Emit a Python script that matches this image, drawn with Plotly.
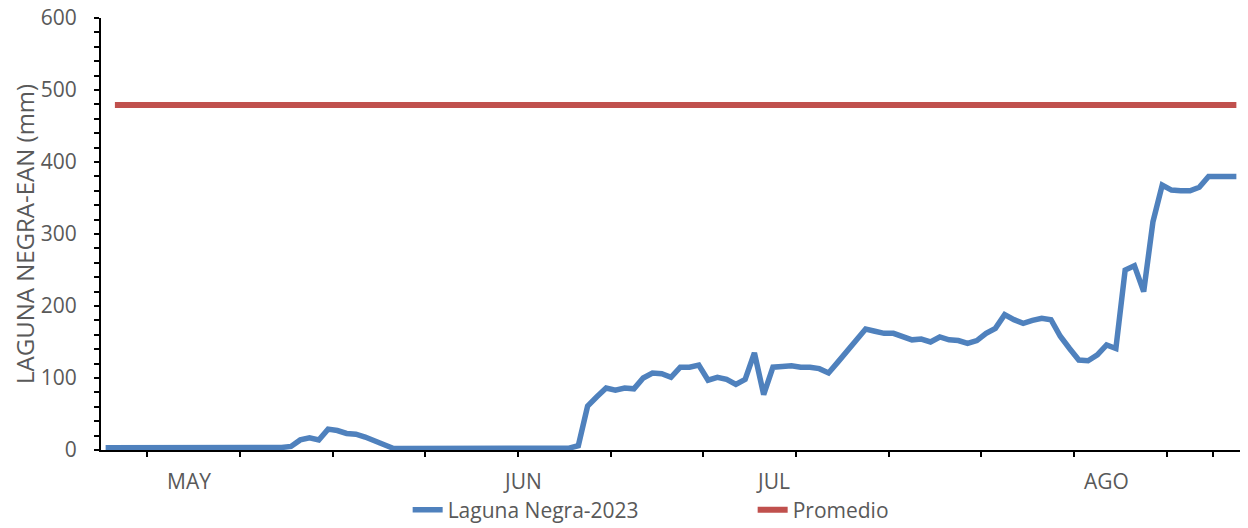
import plotly.graph_objects as go

# Daily series May 1 - Aug 31 (category index 0..122)
laguna_negra_2023 = [
    3, 3, 2.5, 2.5, 3, 2.5, 2, 2.5, 3, 2.5, 2, 2.5, 2.5, 2.5, 2.5, 2.5, 2.5, 2.5, 3, 3.5,
    5, 14, 17, 14, 29, 27, 23, 22, 18, 13, 6,
    2.5,
    2, 2, 2, 2.5, 2.5, 2.5, 2.5, 2, 2.5, 2.5, 2.5, 2, 2.5, 2.5, 2.5, 2, 2, 2.5, 2.5,
    6, 61, 74, 86, 83, 86, 85, 100, 107, 106, 101, 115, 115, 118, 97, 101, 98, 91, 98,
    135, 77, 115, 116, 117, 115, 115, 113, 107, 122, 138, 153, 168, 165, 162, 162, 158,
    153, 154, 150, 157, 153, 152, 148, 152, 162, 169, 188, 181, 176, 180, 183, 181, 158,
    141, 125, 124, 132, 146, 141, 250, 256, 220, 317, 368, 361, 360, 360, 365, 380, 380,
    380, 380,
]
promedio_value = 479
promedio_start = 1

month_labels = ["MAY", "JUN", "JUL", "AGO"]
month_label_pos = [9, 45, 72, 108]
tick_boundaries = [4.5, 14.5, 24.5, 34.5, 44.5, 54.5, 64.5, 74.5, 84.5, 94.5, 104.5, 114.5, 119.5]
y_title = "LAGUNA NEGRA-EAN (mm)"

n = len(laguna_negra_2023)
x_idx = list(range(n))
prom_x = list(range(promedio_start, n))
prom_y = [promedio_value] * len(prom_x)

FONT = "Open Sans"
GREY = "#595959"
FS = 21

fig = go.Figure()
fig.add_trace(go.Scatter(
    x=x_idx, y=laguna_negra_2023, mode="lines", name="Laguna Negra-2023",
    line=dict(color="#4F81BD", width=5.5, shape="linear"),
))
fig.add_trace(go.Scatter(
    x=prom_x, y=prom_y, mode="lines", name="Promedio",
    line=dict(color="#C0504D", width=6),
))

for lab, pos in zip(month_labels, month_label_pos):
    fig.add_annotation(x=pos, y=-0.072, xref="x", yref="paper", text=lab,
                       showarrow=False, xanchor="center", yanchor="middle",
                       font=dict(family=FONT, size=FS, color=GREY))

# y-axis title
fig.add_annotation(x=-0.0676, y=0.5, xref="paper", yref="paper", text=y_title,
                   textangle=-90, showarrow=False, xanchor="center", yanchor="middle",
                   font=dict(family=FONT, size=24, color=GREY))

fig.update_layout(
    width=1248, height=528,
    margin=dict(l=93, r=15, t=10, b=86),
    paper_bgcolor="white", plot_bgcolor="white",
    font=dict(family=FONT, size=FS, color=GREY),
    showlegend=True,
    legend=dict(orientation="h", x=0.269, xanchor="left",
                yref="container", y=0.049, yanchor="middle",
                font=dict(family=FONT, size=FS, color=GREY), entrywidth=300,
                bgcolor="rgba(0,0,0,0)"),
    xaxis=dict(
        range=[-0.5, n - 0.5], showgrid=False, zeroline=False, automargin=False,
        showline=True, linecolor="black", linewidth=2,
        tickmode="array", tickvals=tick_boundaries, ticktext=[""] * len(tick_boundaries),
        ticks="outside", ticklen=5, tickwidth=2, tickcolor="black",
    ),
    yaxis=dict(
        range=[0, 600], showgrid=False, zeroline=False, automargin=False,
        showline=True, linecolor="black", linewidth=2,
        tickmode="linear", tick0=0, dtick=100,
        ticks="outside", ticklen=5, tickwidth=2, tickcolor="black",
        ticklabeloverflow="allow", ticklabelstandoff=13,
        minor=dict(dtick=20, ticks="outside", ticklen=5, tickwidth=2, tickcolor="black"),
        tickfont=dict(family=FONT, size=FS, color=GREY),
    ),
)

fig.write_html("out.html")
